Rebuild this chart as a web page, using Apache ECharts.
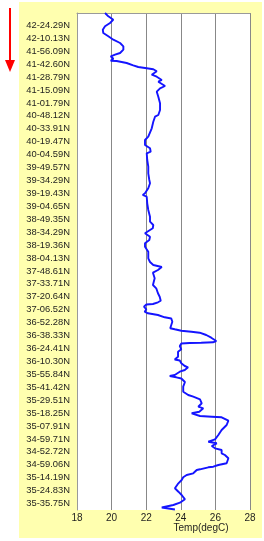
<!DOCTYPE html>
<html><head><meta charset="utf-8">
<script src="https://cdn.jsdelivr.net/npm/echarts@6/dist/echarts.min.js"></script>
<style>html,body{margin:0;padding:0;background:#fff}#c{width:264px;height:541px}</style>
</head><body><div id="c"></div>
<script>
// Latitude labels along the ship track (top to bottom)
const latLabels = ['42-24.29N','42-10.13N','41-56.09N','41-42.60N','41-28.79N','41-15.09N','41-01.79N','40-48.12N','40-33.91N','40-19.47N','40-04.59N','39-49.57N','39-34.29N','39-19.43N','39-04.65N','38-49.35N','38-34.29N','38-19.36N','38-04.13N','37-48.61N','37-33.71N','37-20.64N','37-06.52N','36-52.28N','36-38.33N','36-24.41N','36-10.30N','35-55.84N','35-41.42N','35-29.51N','35-18.25N','35-07.91N','34-59.71N','34-52.72N','34-59.06N','35-14.19N','35-24.83N','35-35.75N'];

// Temperature tick labels
const tempTicks = [18, 20, 22, 24, 26, 28];

// Position along track (0 = start, 497 = end) and temperature (degC)
const trackPos = [0,3.3,6.7,10,13.3,16.7,20,23.3,26.7,30,33.3,36.7,40,41.7,43.3,45.7,47.7,48,49,50,52.3,54,55.3,56.3,58.3,61.7,63.7,67,68.7,73,75.3,78.7,83.7,90.3,97,102,103.7,108.7,115.3,123.7,127,132,135.3,138.7,140.3,147,153.7,160.3,167,170.3,175.3,180.3,182,183.7,190.3,197,203.7,208.7,212,215.3,217,220.3,223.7,227,230.3,233.7,238.7,245.3,249,252,254,255.5,257,259.7,265.3,272,275.3,280.3,283.7,287.7,289.3,291,291.5,293.7,296.3,298.7,300.3,302,304.3,305.5,308.7,312,315.3,316.3,317.7,318.7,319.7,322,324.7,328,329.3,329.7,330,330.5,333,336.3,338.7,343.7,346.5,347.5,350.3,353,354.3,357,358.7,362,363,364.3,365.5,369,371,373.7,378.7,382,383.7,386.3,390.3,393.7,395.3,398.7,400.3,402,403,403.7,404.3,407.7,412,417,422,426.3,428.7,430.3,433,435.3,437,440.3,442,445.3,450.3,452,453.7,454.3,456.3,457,458.7,460.3,462,464.3,467,470.3,475.3,478.7,482,486.3,489.7,492,494.5,496.5];
const temperature = [19.62,19.81,20.10,19.91,19.62,19.49,19.52,19.81,20.10,20.49,20.68,20.68,20.49,20.20,19.95,20.10,19.95,20.29,20.58,20.87,21.25,21.54,22.03,22.41,22.61,22.32,22.61,22.90,22.70,23.09,22.80,22.61,22.70,22.80,22.80,22.70,22.51,22.41,22.32,22.12,21.93,21.93,22.22,22.26,22.03,22.06,22.12,22.12,22.18,22.22,22.12,21.93,21.80,22.03,22.06,22.12,22.22,22.22,22.41,22.38,22.22,21.93,22.22,22.18,21.93,21.93,22.12,22.12,22.22,22.41,22.90,22.99,22.68,22.39,22.49,22.39,22.58,22.68,22.78,22.84,22.68,22.39,22.01,21.87,22.01,21.91,22.10,22.68,23.07,23.45,23.51,23.45,23.39,23.65,24.03,24.61,25.09,25.47,25.76,26.05,25.86,25.18,24.51,24.03,23.94,24.03,23.84,23.84,23.65,23.94,24.03,24.23,24.42,24.23,23.94,23.65,23.36,23.74,24.03,24.24,24.34,24.14,24.14,24.43,24.72,25.11,25.21,25.01,25.30,25.07,24.63,24.53,25.11,25.79,26.36,26.75,26.65,26.36,26.17,25.98,25.59,26.08,25.79,25.98,26.36,26.36,26.55,26.75,26.65,26.17,25.88,25.59,25.11,24.92,25.01,24.72,24.34,24.14,24.05,23.86,23.66,23.86,24.05,24.24,23.95,23.57,22.90,23.66];

const FONT = 'Liberation Sans';
const TXT = '#1e1e1e';

const chart = echarts.init(document.getElementById('c'), null, {renderer: 'canvas'});
const lineData = trackPos.map((p, i) => [temperature[i], p]);

chart.setOption({
  animation: false,
  backgroundColor: '#ffffff',
  graphic: [
    {type: 'rect', z: -100, silent: true, shape: {x: 19, y: 2, width: 243, height: 536}, style: {fill: '#FFFFAF'}},
    {type: 'line', shape: {x1: 10, y1: 8, x2: 10, y2: 62}, style: {stroke: '#ff0000', lineWidth: 2}},
    {type: 'polygon', shape: {points: [[5, 60], [15, 60], [10, 72]]}, style: {fill: '#ff0000'}},
    {type: 'text', style: {text: 'Temp(degC)', x: 201, y: 528, align: 'center', verticalAlign: 'middle', font: '10px "' + FONT + '"', fill: TXT}}
  ],
  grid: [
    {left: 77, right: 14, top: 13, bottom: 31, show: true, backgroundColor: '#ffffff', borderWidth: 0},
    {left: 77, right: 14, top: 19, bottom: 31, show: false}
  ],
  xAxis: [
    {gridIndex: 0, type: 'value', min: tempTicks[0], max: tempTicks[tempTicks.length - 1], interval: 2,
     axisLine: {show: true, lineStyle: {color: '#9a9a9a', width: 1}},
     axisTick: {show: false},
     axisLabel: {margin: 3, fontSize: 10, color: TXT, fontFamily: FONT},
     splitLine: {show: true, lineStyle: {color: '#888888', width: 1}}},
    {gridIndex: 1, type: 'value', min: 0, max: 1, show: false}
  ],
  yAxis: [
    {gridIndex: 0, type: 'value', inverse: true, min: 0, max: 497,
     axisLine: {show: true, lineStyle: {color: '#9a9a9a', width: 1}},
     axisLabel: {show: false}, axisTick: {show: false}, splitLine: {show: false}},
    {gridIndex: 1, type: 'category', inverse: true, data: latLabels, boundaryGap: true,
     axisLine: {show: false}, axisTick: {show: false}, splitLine: {show: false},
     axisLabel: {interval: 0, margin: 7, fontSize: 9.4, color: TXT, fontFamily: FONT}}
  ],
  series: [{
    type: 'line', xAxisIndex: 0, yAxisIndex: 0, data: lineData,
    showSymbol: false, symbol: 'none', smooth: false,
    lineStyle: {color: '#1414ff', width: 1.9}
  }]
});
</script></body></html>
